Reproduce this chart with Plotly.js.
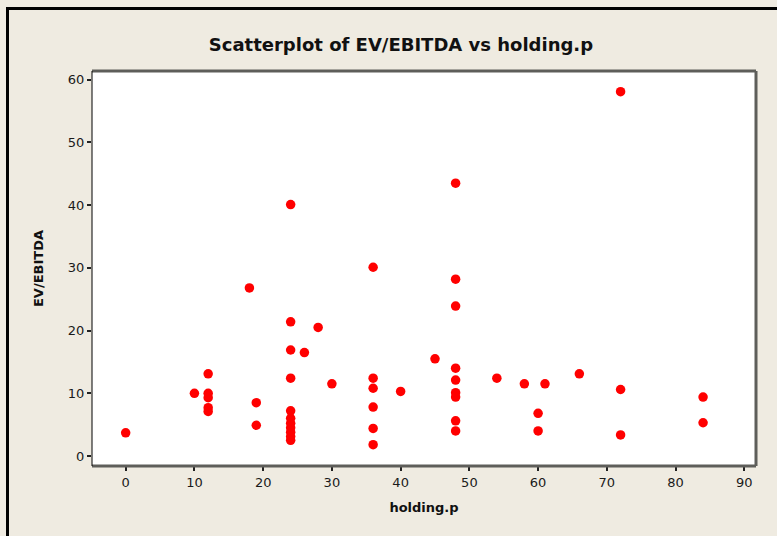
<!DOCTYPE html>
<html>
<head>
<meta charset="utf-8">
<script src="https://cdn.plot.ly/plotly-3.0.1.min.js"></script>
<style>
  html, body { margin: 0; padding: 0; background: #efebe1; }
  #frame {
    position: absolute; left: 0; top: 0; width: 777px; height: 536px;
    background: #efebe1; overflow: hidden;
  }
  #edge {
    position: absolute; left: 6px; top: 7px; width: 771px; height: 529px;
    border-left: 3px solid #000; border-top: 3px solid #000;
    box-sizing: border-box; pointer-events: none;
  }
  #chart { position: absolute; left: 0; top: 0; width: 777px; height: 536px; }
</style>
</head>
<body>
<div id="frame">
  <div id="chart"></div>
  <div id="edge"></div>
</div>
<script>
// Holding period (x) and EV/EBITDA multiple (y) for each deal
const holding = [
  0,
  10,
  12, 12, 12, 12, 12,
  18,
  19, 19,
  24, 24, 24, 24, 24, 24, 24, 24, 24, 24, 24,
  26,
  28,
  30,
  36, 36, 36, 36, 36, 36,
  40,
  45,
  48, 48, 48, 48, 48, 48, 48, 48, 48,
  54,
  58,
  60, 60,
  61,
  66,
  72, 72, 72,
  84, 84
];
const evEbitda = [
  3.7,
  10.0,
  13.1, 10.0, 9.3, 7.7, 7.1,
  26.8,
  8.5, 4.9,
  40.1, 21.4, 16.9, 12.4, 7.2, 6.0, 5.2, 4.5, 3.8, 3.1, 2.5,
  16.5,
  20.5,
  11.5,
  30.1, 12.4, 10.8, 7.8, 4.4, 1.8,
  10.3,
  15.5,
  43.5, 28.2, 23.9, 14.0, 12.1, 10.1, 9.4, 5.6, 4.0,
  12.4,
  11.5,
  6.8, 4.0,
  11.5,
  13.1,
  58.1, 10.6, 3.35,
  9.4, 5.3
];

const xTicks = [0, 10, 20, 30, 40, 50, 60, 70, 80, 90];
const yTicks = [0, 10, 20, 30, 40, 50, 60];

const tickFont = { family: 'DejaVu Sans, Tahoma, sans-serif', size: 13, color: '#1a1a1a' };
const labelFont = { family: 'DejaVu Sans, Tahoma, sans-serif', size: 13, color: '#111' };

const trace = {
  x: holding,
  y: evEbitda,
  type: 'scatter',
  mode: 'markers',
  marker: { color: '#ff0000', size: 9.5, line: { width: 0 } },
  hoverinfo: 'x+y'
};

const layout = {
  width: 777,
  height: 536,
  margin: { l: 92, r: 21, t: 71, b: 70 },
  paper_bgcolor: '#efebe1',
  plot_bgcolor: '#ffffff',
  showlegend: false,
  title: {
    text: '<b>Scatterplot of EV/EBITDA vs holding.p</b>',
    font: { family: 'DejaVu Sans, Tahoma, sans-serif', size: 18, color: '#111' },
    x: 0.516, xanchor: 'center',
    y: 0.916, yanchor: 'middle'
  },
  xaxis: {
    range: [-4.9, 91.7],
    tickvals: xTicks,
    ticktext: xTicks.map(String),
    ticks: 'outside', ticklen: 4, tickwidth: 2, tickcolor: '#222',
    tickfont: tickFont,
    showgrid: false, zeroline: false, showline: false,
    title: { text: '<b>holding.p</b>', font: labelFont, standoff: 14 }
  },
  yaxis: {
    range: [-1.6, 61.4],
    tickvals: yTicks,
    ticktext: yTicks.map(String),
    ticks: 'outside', ticklen: 4, tickwidth: 2, tickcolor: '#222',
    tickfont: tickFont,
    showgrid: false, zeroline: false, showline: false,
    title: { text: '<b>EV/EBITDA</b>', font: labelFont, standoff: 21 }
  },
  shapes: [
    // plot frame: thin dark left edge, heavier grey top/right/bottom
    { type: 'line', xref: 'paper', yref: 'paper', x0: 0, x1: 1, y0: 1, y1: 1, line: { color: '#5e5e5a', width: 3 } },
    { type: 'line', xref: 'paper', yref: 'paper', x0: 1, x1: 1, y0: 0, y1: 1, line: { color: '#5e5e5a', width: 3 } },
    { type: 'line', xref: 'paper', yref: 'paper', x0: 0, x1: 1, y0: 0, y1: 0, line: { color: '#5e5e5a', width: 3 } },
    { type: 'line', xref: 'paper', yref: 'paper', x0: 0, x1: 0, y0: 0, y1: 1, line: { color: '#000000', width: 1 } }
  ]
};

Plotly.newPlot('chart', [trace], layout, { displayModeBar: false, staticPlot: true });
</script>
</body>
</html>
